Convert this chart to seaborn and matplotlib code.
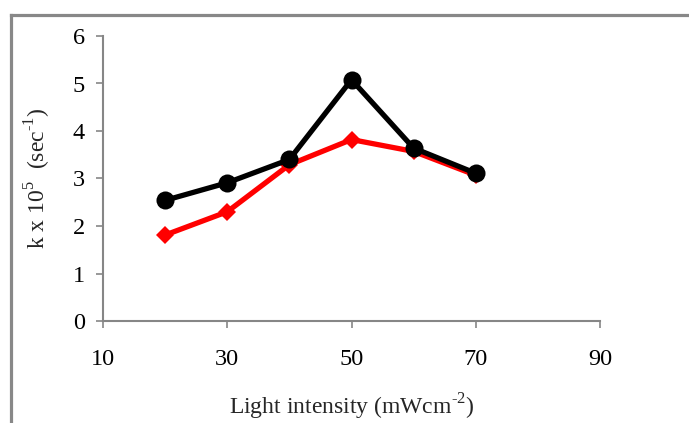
import matplotlib
matplotlib.use("Agg")
import matplotlib.pyplot as plt
import seaborn as sns
import pandas as pd
from matplotlib.lines import Line2D

sns.set_theme(style="white")
plt.rcParams['font.family'] = ['Liberation Serif', 'DejaVu Serif']
plt.rcParams['mathtext.fontset'] = 'custom'
plt.rcParams['mathtext.rm'] = 'Liberation Serif'
plt.rcParams['axes.unicode_minus'] = False

intensity = [20, 30, 40, 50, 60, 70]
series_black = [2.54, 2.91, 3.40, 5.08, 3.64, 3.11]
series_red = [1.81, 2.30, 3.29, 3.82, 3.57, 3.07]
x_ticks = [10, 30, 50, 70, 90]
y_ticks = [0, 1, 2, 3, 4, 5, 6]

df = pd.DataFrame({
    "x": intensity * 2,
    "y": series_red + series_black,
    "s": ["red"] * len(intensity) + ["black"] * len(intensity),
})

fig = plt.figure(figsize=(6.89, 4.23), dpi=100)
ax = fig.add_axes([103/689, 1 - 321/423, (600-103)/689, (321-36)/423])

sns.lineplot(data=df[df.s == "red"], x="x", y="y", ax=ax, color="#ff0000",
             lw=3.8, marker="D", markersize=9, markeredgewidth=0, estimator=None)
sns.lineplot(data=df[df.s == "black"], x="x", y="y", ax=ax, color="black",
             lw=3.8, marker="o", markersize=13, markeredgewidth=0, estimator=None)

ax.set_xlim(10, 90)
ax.set_ylim(0, 6)
ax.set_xticks(x_ticks)
ax.set_yticks(y_ticks)
ax.tick_params(axis="both", which="both", direction="out", length=5, width=1.2,
               color="#868686", labelsize=17.5, colors="#868686", labelcolor="black",
               bottom=True, left=True)
ax.tick_params(axis="x", pad=15)
ax.tick_params(axis="y", pad=8)
for side in ["top", "right"]:
    ax.spines[side].set_visible(False)
for side in ["left", "bottom"]:
    ax.spines[side].set_color("#868686")
    ax.spines[side].set_linewidth(1.5)
ax.set_xlabel(r"Light intensity (mWcm$^{\text{-2}}$)", fontsize=17, labelpad=16)
ax.set_ylabel(r"k x 10$^{5}$  (sec$^{\text{-1}}$)", fontsize=17, labelpad=14)

# outer frame (top and left edges)
fig.add_artist(Line2D([10.5/689, 10.5/689], [0, 1 - 15.5/423], color="#888888",
                      lw=2.3, transform=fig.transFigure, solid_capstyle="projecting"))
fig.add_artist(Line2D([10.5/689, 1], [1 - 15.5/423, 1 - 15.5/423], color="#888888",
                      lw=2.3, transform=fig.transFigure, solid_capstyle="projecting"))

fig.savefig("out.png", dpi=100)
